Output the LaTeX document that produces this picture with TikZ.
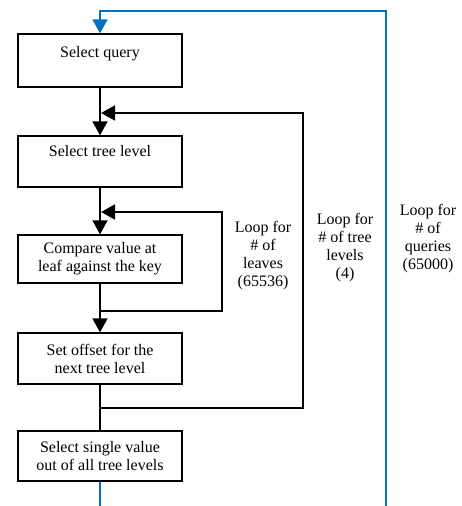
\documentclass[tikz,border=0pt]{standalone}
\usepackage{fontspec}
\setmainfont{Liberation Serif}
\setsansfont{Liberation Serif}
\usetikzlibrary{arrows.meta}
\definecolor{loopblue}{RGB}{0,112,192}
\begin{document}
\begin{tikzpicture}[x=1pt,y=-1pt,
  box/.style={draw,line width=1.3pt,minimum width=164pt,inner sep=2pt,align=center,font=\rmfamily\fontsize{16}{18}\selectfont},
  flow/.style={line width=1.8pt},
  tip/.style={-{Triangle[width=15pt,length=14pt]}},
  blueline/.style={draw=loopblue,line width=1.5pt},
  looplabel/.style={align=center,font=\rmfamily\fontsize{16}{18}\selectfont,inner sep=0pt}]
\useasboundingbox (0,0) rectangle (461,506);
\node[box,minimum height=53pt,text depth=18pt] (b1) at (100,60.5) {Select query};
\node[box,minimum height=51pt,text depth=21pt] (b2) at (100,161.5) {Select tree level};
\node[box,minimum height=48pt] (b3) at (100,259) {Compare value at\\leaf against the key};
\node[box,minimum height=51pt] (b4) at (100,358.5) {Set offset for the\\next tree level};
\node[box,minimum height=50pt] (b5) at (100,456) {Select single value\\out of all tree levels};
\coordinate (j1) at (101,113);
\coordinate (j2) at (101,212);
\coordinate (j3) at (100,311);
\coordinate (j4) at (100,408);
\coordinate (c1) at (222,311);
\coordinate (c2) at (222,212);
\coordinate (c3) at (303,408);
\coordinate (c4) at (303,113);
\coordinate (q0) at (100,506);
\coordinate (q1) at (386,506);
\coordinate (q2) at (386,11);
\coordinate (q3) at (100,11);
\draw[flow,tip] (b1.south) -- (b2.north);
\draw[flow,tip] (b2.south) -- (b3.north);
\draw[flow,tip] (b3.south) -- (b4.north);
\draw[flow] (b4.south) -- (b5.north);
\draw[flow,tip] (j3) -- (c1) -- (c2) -- (j2);
\draw[flow,tip] (j4) -- (c3) -- (c4) -- (j1);
\draw[blueline] (b5.south) -- (q0);
\draw[blueline,tip] (q1) -- (q2) -- (q3) -- (b1.north);
\node[looplabel] (l1) at (263,256) {Loop for\\\# of\\leaves\\(65536)};
\node[looplabel] (l2) at (345,247.5) {Loop for\\\# of tree\\levels\\(4)};
\node[looplabel] (l3) at (428,238.5) {Loop for\\\# of\\queries\\(65000)};
\end{tikzpicture}
\end{document}
